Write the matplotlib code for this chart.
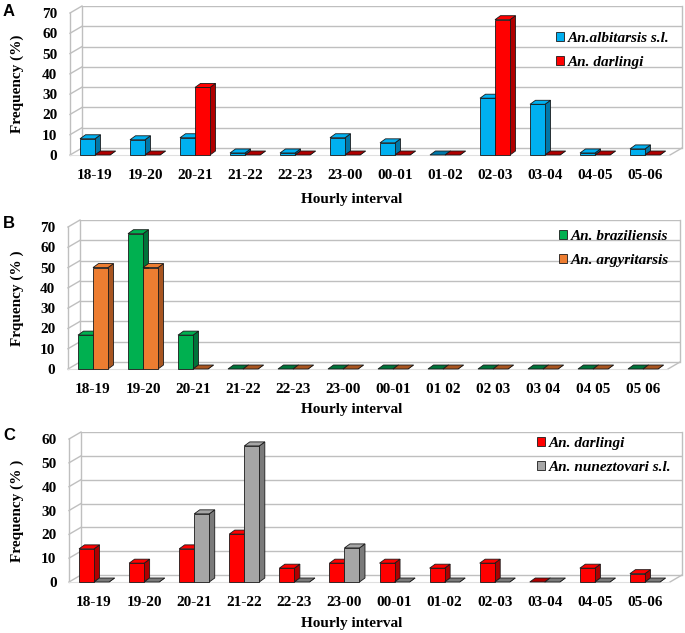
import matplotlib
matplotlib.use('Agg')
import matplotlib.pyplot as plt
from matplotlib.patches import Polygon, Patch

# Hourly intervals
hours = ['18-19', '19-20', '20-21', '21-22', '22-23', '23-00',
         '00-01', '01-02', '02-03', '03-04', '04-05', '05-06']
hours_b = ['18-19', '19-20', '20-21', '21-22', '22-23', '23-00',
           '00-01', '01 02', '02 03', '03 04', '04 05', '05 06']

# Panel A
albitarsis = [8, 7.5, 8.5, 1, 1, 8.5, 6, 0, 28, 25, 1, 3]
darlingi_a = [0, 0, 33.3, 0, 0, 0, 0, 0, 66.7, 0, 0, 0]
# Panel B
braziliensis = [16.7, 66.7, 16.7, 0, 0, 0, 0, 0, 0, 0, 0, 0]
argyritarsis = [50, 50, 0, 0, 0, 0, 0, 0, 0, 0, 0, 0]
# Panel C
darlingi_c = [13.9, 7.9, 13.9, 20.1, 5.8, 7.9, 7.9, 5.8, 7.9, 0, 5.8, 3.5]
nuneztovari = [0, 0, 28.6, 57.1, 0, 14.3, 0, 0, 0, 0, 0, 0]

W, H = 685, 633
fig = plt.figure(figsize=(W / 100, H / 100), dpi=100)

serif = 'Liberation Serif'
grid_col = '#BFBFBF'
fs = 11


def panel(left, right, floor, top, ymax, step, s1, s2, cols1, cols2, labels,
          names, ylabel, letter, letter_y, xlabel_y, leg_xy):
    wdx_px, wdy_px = 12, 7      # wall depth
    bdx_px, bdy_px = 5.5, 4     # bar depth
    ppx = (right - left - wdx_px) / 12.0
    ppy = (floor - top) / float(ymax)
    wdx, wdy = wdx_px / ppx, wdy_px / ppy
    bdx, bdy = bdx_px / ppx, bdy_px / ppy

    ax = fig.add_axes([left / W, 1 - floor / H, (right - left) / W,
                       (floor - top + wdy_px) / H])
    ax.set_xlim(-0.5, 11.5 + wdx)
    ax.set_ylim(0, ymax + wdy)
    for sp in ax.spines.values():
        sp.set_visible(False)

    # walls and gridlines
    x0, x1 = -0.5, 11.5
    ticks = list(range(0, ymax + 1, step))
    for v in ticks:
        ax.plot([x0 + wdx, x1 + wdx], [v + wdy, v + wdy], color=grid_col, lw=1, zorder=1)
        ax.plot([x0, x0 + wdx], [v, v + wdy], color=grid_col, lw=1, zorder=1, clip_on=False)
    ax.plot([x0, x0], [0, ymax], color=grid_col, lw=1, zorder=1, clip_on=False)
    ax.plot([x0 + wdx, x0 + wdx], [wdy, ymax + wdy], color=grid_col, lw=1, zorder=1)
    ax.plot([x1 + wdx, x1 + wdx], [wdy, ymax + wdy], color=grid_col, lw=1, zorder=1, clip_on=False)
    ax.plot([x1, x1 + wdx], [0, wdy], color=grid_col, lw=1, zorder=1, clip_on=False)
    ax.plot([x0, x1], [0, 0], color='#E0E0E0', lw=0.8, zorder=1, clip_on=False)

    w = 0.3
    z = 3
    for i in range(12):
        for off, vals, (fc, sc) in ((-w / 2, s1, cols1), (w / 2, s2, cols2)):
            v = vals[i]
            xl = i + off - w / 2
            xr = i + off + w / 2
            side = Polygon([(xr, 0), (xr + bdx, bdy), (xr + bdx, v + bdy), (xr, v)],
                           closed=True, fc=sc, ec='#1a1a1a', lw=0.6, zorder=z, clip_on=False)
            topf = Polygon([(xl, v), (xl + bdx, v + bdy), (xr + bdx, v + bdy), (xr, v)],
                           closed=True, fc=sc if v == 0 else fc, ec='#1a1a1a', lw=0.6,
                           zorder=z, clip_on=False)
            ax.add_patch(side)
            ax.add_patch(topf)
            if v > 0:
                ax.bar(i + off, v, w, color=fc, edgecolor='#1a1a1a', lw=0.6,
                       zorder=z + 0.5, clip_on=False)
            z += 1

    ax.set_xticks(range(12))
    ax.set_xticklabels(labels, fontfamily=serif, fontweight='bold', fontsize=fs)
    ax.set_yticks(ticks)
    ax.set_yticklabels([str(t) for t in ticks], fontfamily=serif, fontweight='bold', fontsize=fs)
    ax.tick_params(axis='x', length=0, pad=10)
    ax.tick_params(axis='y', length=0, pad=9)

    handles = [Patch(fc=cols1[0], ec='#1a1a1a', lw=0.6),
               Patch(fc=cols2[0], ec='#1a1a1a', lw=0.6)]
    fig.legend(handles, names, loc='upper left',
               bbox_to_anchor=(leg_xy[0] / W, 1 - leg_xy[1] / H),
               frameon=False, borderpad=0, handlelength=0.55, handleheight=0.55,
               handletextpad=0.25, labelspacing=0.75,
               prop={'family': serif, 'weight': 'bold', 'style': 'italic', 'size': fs})

    fig.text(17 / W, 1 - (floor + top) / 2 / H, ylabel, rotation=90, ha='center',
             va='center', fontfamily=serif, fontweight='bold', fontsize=fs)
    fig.text(352 / W, 1 - xlabel_y / H, 'Hourly interval', ha='center', va='center',
             fontfamily=serif, fontweight='bold', fontsize=fs)
    fig.text(3 / W, 1 - letter_y / H, letter, ha='left', va='center',
             fontfamily='Liberation Sans', fontweight='bold', fontsize=12)
    return ax


panel(70, 682, 155, 13, 70, 10, albitarsis, darlingi_a,
      ('#00B0F0', '#0077A8'), ('#FF0000', '#B00000'), hours,
      ['An.albitarsis s.l.', 'An. darlingi'], 'Frequency (%)', 'A', 12, 200, (548, 24))
panel(68, 680, 369, 227, 70, 10, braziliensis, argyritarsis,
      ('#00B050', '#00733A'), ('#ED7D31', '#A85520'), hours_b,
      ['An. braziliensis', 'An. argyritarsis'], 'Frquency (% )', 'B', 223, 409, (551, 222))
panel(69, 682, 582, 439, 60, 10, darlingi_c, nuneztovari,
      ('#FF0000', '#B00000'), ('#A6A6A6', '#7A7A7A'), hours,
      ['An. darlingi', 'An. nuneztovari s.l.'], 'Frequency (% )', 'C', 435, 624, (529, 429))

fig.savefig('out.png', dpi=100)
